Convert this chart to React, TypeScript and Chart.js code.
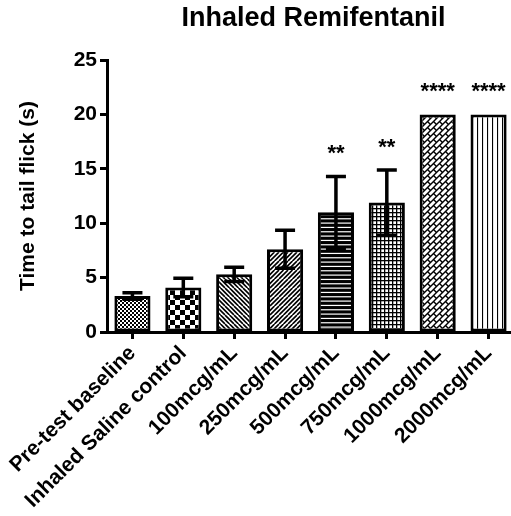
import React, { useEffect, useRef } from "react";
import { Chart, registerables } from "chart.js";

Chart.register(...registerables);

const chartTitle = "Inhaled Remifentanil";
const yAxisTitle = "Time to tail flick (s)";
const categories = [
  "Pre-test baseline",
  "Inhaled Saline control",
  "100mcg/mL",
  "250mcg/mL",
  "500mcg/mL",
  "750mcg/mL",
  "1000mcg/mL",
  "2000mcg/mL",
];
const meanValues = [3.3, 4.1, 5.3, 7.6, 11.0, 11.9, 20.0, 20.0];
const errorValues = [0.3, 0.85, 0.65, 1.75, 3.3, 3.0, 0, 0];
const significance = ["", "", "", "", "**", "**", "****", "****"];
const yTicks = [0, 5, 10, 15, 20, 25];

const FONT = "'Liberation Sans', Arial, Helvetica, sans-serif";

type Drawer = (g: CanvasRenderingContext2D, w: number, h: number) => void;

function makePattern(ctx: CanvasRenderingContext2D, w: number, h: number, draw: Drawer, bg = "#fff") {
  const c = document.createElement("canvas");
  c.width = w;
  c.height = h;
  const g = c.getContext("2d") as CanvasRenderingContext2D;
  g.fillStyle = bg;
  g.fillRect(0, 0, w, h);
  g.fillStyle = "#000";
  g.strokeStyle = "#000";
  draw(g, w, h);
  return ctx.createPattern(c, "repeat") as CanvasPattern;
}

function buildPatterns(ctx: CanvasRenderingContext2D): CanvasPattern[] {
  const fineChecker = makePattern(ctx, 4, 4, (g) => {
    g.fillRect(0, 0, 2, 2);
    g.fillRect(2, 2, 2, 2);
  });
  const bigChecker = makePattern(ctx, 10, 10, (g) => {
    g.fillRect(0, 0, 5, 5);
    g.fillRect(5, 5, 5, 5);
  });
  const back = makePattern(ctx, 9, 9, (g, w, h) => {
    g.lineWidth = 1.6;
    g.beginPath();
    for (const o of [-9, -4.5, 0, 4.5, 9]) {
      g.moveTo(o, 0);
      g.lineTo(o + w, h);
    }
    g.stroke();
  });
  const fwd = makePattern(ctx, 9, 9, (g, w, h) => {
    g.lineWidth = 1.6;
    g.beginPath();
    for (const o of [-9, -4.5, 0, 4.5, 9]) {
      g.moveTo(o, h);
      g.lineTo(o + w, 0);
    }
    g.stroke();
  });
  const hStripes = makePattern(
    ctx,
    4,
    13,
    (g, w) => {
      g.fillStyle = "#fff";
      for (let i = 0; i < 3; i++) g.fillRect(0, (i * 13) / 3 + 1.5, w, 1.2);
    },
    "#000"
  );
  const grid = makePattern(
    ctx,
    4,
    4,
    (g) => {
      g.fillStyle = "#fff";
      g.fillRect(1.3, 1.3, 2.7, 2.7);
    },
    "#000"
  );
  const bricks = makePattern(
    ctx,
    12,
    12,
    (g) => {
      const T = 12;
      const L = T / Math.SQRT2;
      const hh = L / 2;
      const gap = 1.4;
      const ux = 1 / Math.SQRT2, uy = -1 / Math.SQRT2;
      const vx = 1 / Math.SQRT2, vy = 1 / Math.SQRT2;
      g.fillStyle = "#fff";
      for (let r = -8; r <= 8; r++) {
        for (let k = -8; k <= 8; k++) {
          const a = k * L + (Math.abs(r) % 2 === 1 ? L / 2 : 0);
          const b = r * hh;
          const da = L / 2 - gap / 2;
          const db = hh / 2 - gap / 2;
          const pts = [
            [a - da, b - db],
            [a + da, b - db],
            [a + da, b + db],
            [a - da, b + db],
          ];
          g.beginPath();
          pts.forEach(([p, q], i) => {
            const x = p * ux + q * vx;
            const y = p * uy + q * vy;
            if (i === 0) g.moveTo(x, y);
            else g.lineTo(x, y);
          });
          g.closePath();
          g.fill();
        }
      }
    },
    "#000"
  );
  const vLines = makePattern(ctx, 5, 4, (g, w, h) => {
    g.fillRect(2, 0, 1.1, h);
  });
  return [fineChecker, bigChecker, back, fwd, hStripes, grid, bricks, vLines];
}

const annotations = {
  id: "annotations",
  afterDatasetsDraw(chart: any) {
    const ctx = chart.ctx as CanvasRenderingContext2D;
    const meta = chart.getDatasetMeta(0);
    const ys = chart.scales.y;
    ctx.save();
    ctx.strokeStyle = "#000";
    ctx.lineWidth = 3.5;
    ctx.lineCap = "butt";
    meta.data.forEach((el: any, i: number) => {
      const e = errorValues[i];
      if (!e) return;
      const x = el.x;
      const yt = ys.getPixelForValue(meanValues[i] + e);
      const yb = ys.getPixelForValue(meanValues[i] - e);
      ctx.beginPath();
      ctx.moveTo(x, yt);
      ctx.lineTo(x, yb);
      ctx.moveTo(x - 10, yt);
      ctx.lineTo(x + 10, yt);
      ctx.moveTo(x - 10, yb);
      ctx.lineTo(x + 10, yb);
      ctx.stroke();
    });
    ctx.fillStyle = "#000";
    ctx.font = `bold 22px ${FONT}`;
    ctx.textAlign = "center";
    ctx.textBaseline = "alphabetic";
    meta.data.forEach((el: any, i: number) => {
      const s = significance[i];
      if (!s) return;
      const top = ys.getPixelForValue(meanValues[i] + errorValues[i]);
      ctx.fillText(s, el.x, top - 16);
    });
    ctx.restore();
  },
  afterDraw(chart: any) {
    const ctx = chart.ctx as CanvasRenderingContext2D;
    const a = chart.chartArea;
    ctx.save();
    ctx.fillStyle = "#000";
    ctx.font = `bold 27px ${FONT}`;
    ctx.textAlign = "center";
    ctx.textBaseline = "alphabetic";
    ctx.fillText(chartTitle, (a.left + a.right) / 2 + 3, 26);
    ctx.translate(28, (a.top + a.bottom) / 2);
    ctx.rotate(-Math.PI / 2);
    ctx.font = `bold 21px ${FONT}`;
    ctx.textBaseline = "middle";
    ctx.fillText(yAxisTitle, 0, 0);
    ctx.restore();
  },
};

export default function App() {
  const ref = useRef<HTMLCanvasElement | null>(null);
  useEffect(() => {
    const canvas = ref.current;
    if (!canvas) return;
    const ctx = canvas.getContext("2d") as CanvasRenderingContext2D;
    const patterns = buildPatterns(ctx);
    const tickFont = { family: FONT, size: 21, weight: "bold" as const };
    const chart = new Chart(canvas, {
      type: "bar",
      data: {
        labels: categories,
        datasets: [
          {
            data: meanValues,
            backgroundColor: patterns,
            borderColor: "#000",
            borderWidth: 3,
            borderSkipped: false,
            barPercentage: 0.71,
            categoryPercentage: 1,
          },
        ],
      },
      options: {
        animation: false,
        responsive: false,
        layout: { padding: { left: 0, top: 60, right: 2, bottom: 0 } },
        plugins: {
          legend: { display: false },
          title: { display: false },
          tooltip: { enabled: false },
        },
        scales: {
          x: {
            grid: {
              display: true,
              drawOnChartArea: false,
              drawTicks: true,
              tickLength: 7,
              tickWidth: 3,
              tickColor: "#000",
              offset: false,
            },
            border: { display: true, color: "#000", width: 3 },
            ticks: {
              color: "#000",
              font: tickFont,
              minRotation: 45,
              maxRotation: 45,
              autoSkip: false,
              padding: 2,
            },
            afterFit: (s: any) => {
              s.height = 184;
            },
          },
          y: {
            min: 0,
            max: 25,
            afterBuildTicks: (s: any) => {
              s.ticks = yTicks.map((v) => ({ value: v }));
            },
            grid: {
              display: true,
              drawOnChartArea: false,
              drawTicks: true,
              tickLength: 7,
              tickWidth: 3,
              tickColor: "#000",
            },
            border: { display: true, color: "#000", width: 3 },
            ticks: { color: "#000", font: tickFont, padding: 3 },
            afterFit: (s: any) => {
              s.width = 107;
            },
          },
        },
      },
      plugins: [annotations],
    });
    return () => chart.destroy();
  }, []);
  return (
    <div
      style={{
        position: "fixed",
        left: 0,
        top: 0,
        width: 511,
        height: 516,
        overflow: "hidden",
        background: "#fff",
      }}
    >
      <canvas ref={ref} width={516} height={516} style={{ display: "block" }} />
    </div>
  );
}
